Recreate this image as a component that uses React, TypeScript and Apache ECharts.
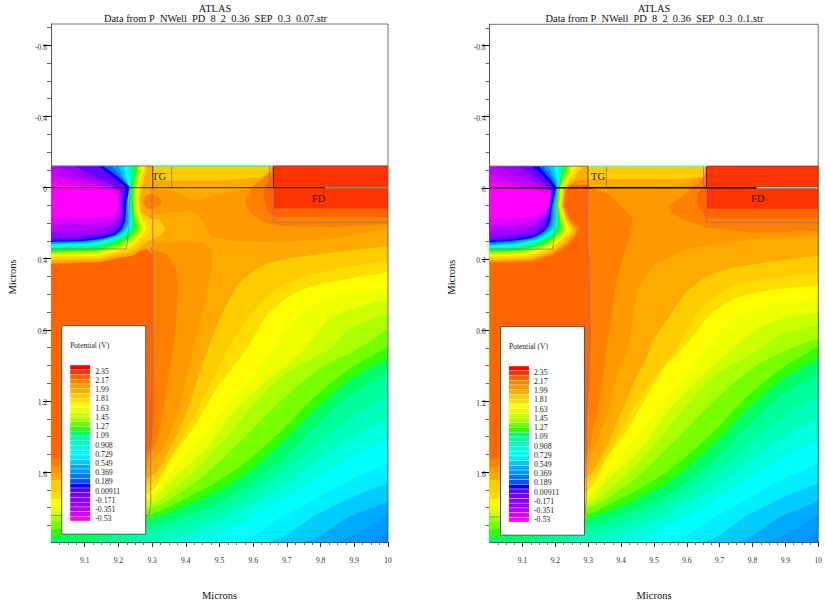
import React, { useEffect, useRef } from "react";
import * as echarts from "echarts";

type Pts = number[][];

const SERIF = "Liberation Serif";
const yTop = -0.92;
const yBottom = 1.993;
const surface = -0.122;

const xMajor = [9.1, 9.2, 9.3, 9.4, 9.5, 9.6, 9.7, 9.8, 9.9, 10];
const xMinor = [9.025, 9.05, 9.075, 9.125, 9.15, 9.175, 9.225, 9.25, 9.275, 9.325, 9.35, 9.375, 9.425, 9.45, 9.475, 9.525, 9.55, 9.575, 9.625, 9.65, 9.675, 9.725, 9.75, 9.775, 9.825, 9.85, 9.875, 9.925, 9.95, 9.975];
const yMajor = [-0.8, -0.4, 0, 0.4, 0.8, 1.2, 1.6];
const yMinor = [-0.9, -0.7, -0.6, -0.5, -0.3, -0.2, -0.1, 0.1, 0.2, 0.3, 0.5, 0.6, 0.7, 0.9, 1.0, 1.1, 1.3, 1.4, 1.5, 1.7, 1.8, 1.9];

const legendLabels = ["2.35", "2.17", "1.99", "1.81", "1.63", "1.45", "1.27", "1.09", "0.908", "0.729", "0.549", "0.369", "0.189", "0.00911", "-0.171", "-0.351", "-0.53"];
const legendColors = ["#ff0000", "#ff3300", "#ff6600", "#ff8000", "#ff9900", "#ffaa00", "#ffcc00", "#ffdd00", "#ffff00", "#eeff00", "#ccff00", "#aaff00", "#66ff00", "#33ff00", "#00ff66", "#00ffaa", "#00ffbb", "#00ffdd", "#00ffff", "#00eeff", "#00ccff", "#00aaff", "#0099ff", "#0077ff", "#0055ff", "#0000ff", "#5500ff", "#7700ff", "#8800ff", "#9900ff", "#bb00ff", "#dd00ff", "#ff00ff"];

// Contours shared by both plots, coldest first (microns).
const coldColors = ["#0099ff", "#00aaff", "#00ccff", "#00eeff", "#00ffff", "#00ffdd", "#00ffbb", "#00ff99", "#00ff66", "#33ff00", "#77ff00"];
const c22: Pts = [[9.942, 1.993], [10, 1.934]];
const c21: Pts = [[9.828, 1.993], [10, 1.84]];
const c20: Pts = [[9.744, 1.993], [9.887, 1.85], [10, 1.766]];
const c19: Pts = [[9.64, 1.993], [9.788, 1.84], [9.887, 1.747], [10, 1.663]];
const c18: Pts = [[9.551, 1.993], [9.67, 1.868], [9.788, 1.747], [9.887, 1.644], [10, 1.55]];
const c17: Pts = [[9.422, 1.993], [9.561, 1.887], [9.689, 1.747], [9.788, 1.635], [9.887, 1.522], [10, 1.42]];
const c16: Pts = [[9.313, 1.993], [9.442, 1.924], [9.561, 1.821], [9.689, 1.672], [9.788, 1.541], [9.887, 1.41], [10, 1.298]];
const c15: Pts = [[9.225, 1.993], [9.284, 1.952], [9.403, 1.896], [9.541, 1.784], [9.689, 1.597], [9.788, 1.448], [9.887, 1.298], [10, 1.167]];
const c14: Pts = [[9.085, 1.993], [9.244, 1.934], [9.403, 1.84], [9.541, 1.728], [9.689, 1.522], [9.788, 1.336], [9.887, 1.167], [10, 1.036]];
const c13: Pts = [[9, 1.966], [9.145, 1.934], [9.284, 1.868], [9.422, 1.775], [9.561, 1.635], [9.689, 1.429], [9.788, 1.242], [9.887, 1.083], [10, 0.962]];
const c12: Pts = [[9, 1.925], [9.284, 1.844], [9.403, 1.747], [9.541, 1.597], [9.67, 1.392], [9.778, 1.186], [9.887, 1.018], [10, 0.896]];
const coldContours = [c22, c21, c20, c19, c18, c17, c16, c15, c14, c13, c12];

const warmColors = ["#aaff00", "#ccff00", "#eeff00", "#ffff00", "#ffdd00", "#ffcc00", "#ffaa00"];

// Left plot
const lF7: Pts = [[9, 1.878], [9.284, 1.812], [9.432, 1.653], [9.561, 1.429], [9.679, 1.205], [9.798, 1.018], [9.912, 0.906], [10, 0.793]];
const lF6: Pts = [[9, 1.85], [9.284, 1.793], [9.403, 1.635], [9.501, 1.448], [9.6, 1.223], [9.689, 1.055], [9.828, 0.906], [9.887, 0.794], [10, 0.709]];
const lF5: Pts = [[9, 1.822], [9.284, 1.771], [9.363, 1.635], [9.462, 1.466], [9.541, 1.261], [9.65, 1.074], [9.754, 0.906], [9.828, 0.737], [9.927, 0.663], [10, 0.625]];
const lF4: Pts = [[9, 1.794], [9.284, 1.747], [9.373, 1.56], [9.452, 1.392], [9.521, 1.223], [9.6, 1.055], [9.66, 0.906], [9.729, 0.719], [9.828, 0.625], [10, 0.56]];
const lF3: Pts = [[9, 1.751], [9.284, 1.719], [9.363, 1.504], [9.422, 1.354], [9.492, 1.13], [9.581, 0.906], [9.65, 0.7], [9.729, 0.588], [9.828, 0.532], [10, 0.476]];
const lF2: Pts = [[9, 1.713], [9.284, 1.672], [9.383, 1.429], [9.442, 1.223], [9.492, 1.036], [9.526, 0.906], [9.571, 0.775], [9.63, 0.635], [9.679, 0.56], [9.778, 0.485], [10, 0.41]];
const lF1: Pts = [[9, 1.644], [9.284, 1.635], [9.353, 1.466], [9.403, 1.261], [9.442, 1.036], [9.477, 0.85], [9.492, 0.775], [9.531, 0.625], [9.561, 0.532], [9.63, 0.438], [9.729, 0.392], [10, 0.33]];
const leftWarm = [lF7, lF6, lF5, lF4, lF3, lF2, lF1];

const lUpperT: Pts = [[9.302, 0.005], [9.363, 0.018], [9.412, 0.068], [9.442, 0.068], [9.492, 0.042], [9.581, 0.005], [9.65, -0.057], [9.66, -0.122], [10, -0.122], [10, 0.233], [9.828, 0.289], [9.679, 0.307], [9.531, 0.298], [9.477, 0.279], [9.442, 0.167], [9.412, 0.13], [9.302, 0.149]];
const lLowerT: Pts = [[9, 1.606], [9.284, 1.588], [9.333, 1.466], [9.373, 1.28], [9.403, 1.074], [9.422, 0.906], [9.457, 0.644], [9.477, 0.457], [9.48, 0.354], [9.457, 0.307], [9.302, 0.307], [9.284, 0.382], [9, 0.42]];
const lInnerT: Pts = [[9, 1.57], [9.284, 1.532], [9.313, 1.429], [9.333, 1.261], [9.348, 1.074], [9.368, 0.85], [9.378, 0.55], [9.368, 0.438], [9.343, 0.373], [9.302, 0.345], [9.284, 0.382], [9, 0.42]];
const lBulk: Pts = [[9, 1.523], [9.284, 1.495], [9.299, 1.448], [9.306, 1.223], [9.302, 0.85], [9.302, 0.382], [9.284, 0.345], [9.264, 0.354], [9.244, 0.382], [9.145, 0.42], [9, 0.429]];
const lGateBand: Pts = [[9.302, -0.122], [9.65, -0.122], [9.65, -0.085], [9.62, -0.057], [9.492, -0.038], [9.302, -0.038]];
const lFdOuter: Pts = [[9.65, -0.085], [9.595, 0], [9.576, 0.083], [9.59, 0.139], [9.63, 0.195], [9.67, 0.214], [9.828, 0.223], [10, 0.205], [10, -0.122], [9.66, -0.122]];
const lFdInner: Pts = [[9.655, -0.066], [9.635, 0], [9.63, 0.046], [9.645, 0.139], [9.665, 0.167], [10, 0.167], [10, -0.122], [9.66, -0.122]];
const fdCore: Pts = [[9.66, -0.122], [10, -0.122], [10, 0.118], [9.66, 0.118]];
const lBlob: Pts = [[9.276, 0.074], [9.289, 0.04], [9.313, 0.046], [9.328, 0.079], [9.313, 0.111], [9.289, 0.121], [9.277, 0.102]];
const leftOrange = [lUpperT, lLowerT, lInnerT, lBulk, lGateBand, lFdOuter, lFdInner, fdCore];
const leftOrangeColors = ["#ff9900", "#ff9900", "#ff8000", "#ff6600", "#ffcc00", "#ff8000", "#ff6600", "#ff3300"];

const depletionColors = ["#ffaa00", "#ffcc00", "#ffdd00", "#ffff00", "#ccff00", "#88ff00", "#33ff00", "#00ff66", "#00ffbb", "#00ffff", "#00ccff", "#0099ff", "#0066ff", "#0000ff", "#6600ff", "#9900ff", "#bb00ff", "#dd00ff", "#ff00ff"];
const lD1: Pts = [[9.294, -0.122], [9.276, 0], [9.27, 0.064], [9.276, 0.13], [9.302, 0.149], [9.302, 0.322], [9.284, 0.341], [9.264, 0.35], [9.244, 0.375], [9.145, 0.416], [9, 0.425]];
const lD2: Pts = [[9.287, -0.122], [9.269, 0], [9.264, 0.064], [9.268, 0.139], [9.294, 0.177], [9.323, 0.18], [9.34, 0.233], [9.323, 0.274], [9.299, 0.289], [9.269, 0.326], [9.239, 0.364], [9.145, 0.401], [9, 0.41]];
const lD3: Pts = [[9.282, -0.122], [9.264, 0], [9.26, 0.064], [9.264, 0.139], [9.284, 0.192], [9.296, 0.233], [9.284, 0.266], [9.264, 0.307], [9.234, 0.35], [9.145, 0.392], [9, 0.397]];
const lD4: Pts = [[9.276, -0.122], [9.259, 0], [9.256, 0.064], [9.259, 0.139], [9.274, 0.195], [9.284, 0.229], [9.272, 0.261], [9.254, 0.304], [9.224, 0.341], [9.145, 0.382], [9, 0.386]];
const lD5: Pts = [[9.27, -0.122], [9.254, 0], [9.252, 0.064], [9.255, 0.149], [9.268, 0.205], [9.274, 0.229], [9.262, 0.261], [9.244, 0.304], [9.215, 0.335], [9.145, 0.373], [9, 0.378]];
const lD6: Pts = [[9.264, -0.122], [9.25, 0], [9.248, 0.064], [9.251, 0.149], [9.262, 0.21], [9.266, 0.229], [9.254, 0.261], [9.236, 0.298], [9.205, 0.33], [9.145, 0.364], [9, 0.371]];
const lD7: Pts = [[9.258, -0.122], [9.246, 0], [9.244, 0.064], [9.247, 0.149], [9.256, 0.205], [9.258, 0.229], [9.246, 0.261], [9.229, 0.292], [9.195, 0.322], [9.145, 0.354], [9, 0.364]];
const lD8: Pts = [[9.25, -0.122], [9.242, 0], [9.24, 0.064], [9.243, 0.149], [9.249, 0.205], [9.249, 0.229], [9.239, 0.255], [9.222, 0.285], [9.19, 0.313], [9.135, 0.341], [9, 0.354]];
const lD9: Pts = [[9.24, -0.122], [9.238, 0], [9.236, 0.064], [9.239, 0.149], [9.242, 0.205], [9.241, 0.225], [9.232, 0.251], [9.217, 0.278], [9.185, 0.304], [9.13, 0.332], [9, 0.341]];
const lD10: Pts = [[9.229, -0.122], [9.234, 0], [9.232, 0.064], [9.235, 0.149], [9.236, 0.199], [9.234, 0.221], [9.226, 0.248], [9.211, 0.27], [9.18, 0.294], [9.125, 0.322], [9, 0.33]];
const lD11: Pts = [[9.215, -0.122], [9.23, 0], [9.228, 0.064], [9.231, 0.149], [9.232, 0.195], [9.229, 0.218], [9.22, 0.244], [9.205, 0.266], [9.175, 0.289], [9.12, 0.313], [9, 0.321]];
const lD12: Pts = [[9.2, -0.122], [9.227, 0], [9.225, 0.064], [9.228, 0.149], [9.228, 0.195], [9.224, 0.218], [9.215, 0.24], [9.197, 0.263], [9.17, 0.285], [9.116, 0.306], [9, 0.313]];
const lD13: Pts = [[9.18, -0.122], [9.21, -0.057], [9.234, -0.005], [9.225, 0.083], [9.222, 0.186], [9.213, 0.236], [9.193, 0.27], [9.157, 0.289], [9.096, 0.304], [9, 0.309]];
const lD14: Pts = [[9.155, -0.122], [9.195, -0.066], [9.232, -0.005], [9.224, 0.083], [9.22, 0.186], [9.21, 0.233], [9.19, 0.266], [9.155, 0.285], [9.096, 0.3], [9, 0.304]];
const lD15: Pts = [[9.14, -0.122], [9.18, -0.066], [9.222, -0.005], [9.215, 0.083], [9.213, 0.186], [9.2, 0.233], [9.18, 0.261], [9.145, 0.278], [9.086, 0.292], [9, 0.298]];
const lD16: Pts = [[9.071, -0.122], [9.135, -0.057], [9.195, -0.005], [9.21, 0.064], [9.207, 0.167], [9.19, 0.223], [9.165, 0.251], [9.126, 0.266], [9.076, 0.279], [9, 0.285]];
const lD17: Pts = [[9.015, -0.122], [9.09, -0.06], [9.18, -0.014], [9.207, 0.018], [9.205, 0.167], [9.18, 0.21], [9.145, 0.233], [9.096, 0.242], [9, 0.251]];
const lD18: Pts = [[9, -0.075], [9.075, -0.04], [9.165, -0.005], [9.203, 0.022], [9.2, 0.139], [9.185, 0.186], [9.145, 0.199], [9.076, 0.205], [9, 0.21]];
const lD19: Pts = [[9, -0.03], [9.08, -0.012], [9.165, 0.012], [9.2, 0.04], [9.197, 0.13], [9.175, 0.167], [9, 0.177]];
const leftDepletion = [lD1, lD2, lD3, lD4, lD5, lD6, lD7, lD8, lD9, lD10, lD11, lD12, lD13, lD14, lD15, lD16, lD17, lD18, lD19];

const lWell: Pts = [[9, 0.345], [9.224, 0.345], [9.232, 0.195], [9.234, 0]];
const lDrift: Pts = [[9.3, 0], [9.3, 0.172], [9.302, 0.175], [9.302, 0.33], [9.299, 0.335], [9.302, 0.4], [9.302, 0.85], [9.302, 1.036], [9.296, 1.186], [9.296, 1.784], [9.291, 1.844], [9, 1.844]];
const lGateA: Pts = [[9.358, -0.122], [9.358, 0]];
const lGateB: Pts = [[9.648, -0.122], [9.648, 0]];
const fdJunction: Pts = [[9.66, 0], [9.66, 0.195], [10, 0.195]];

// Right plot
const rF7: Pts = [[9, 1.878], [9.284, 1.812], [9.432, 1.653], [9.561, 1.429], [9.679, 1.205], [9.798, 1.018], [9.915, 0.904], [10, 0.85]];
const rF6: Pts = [[9, 1.85], [9.284, 1.793], [9.403, 1.635], [9.501, 1.448], [9.6, 1.223], [9.689, 1.055], [9.826, 0.904], [9.885, 0.83], [10, 0.775]];
const rF5: Pts = [[9, 1.822], [9.284, 1.771], [9.363, 1.635], [9.462, 1.466], [9.541, 1.261], [9.64, 1.07], [9.742, 0.904], [9.816, 0.792], [9.895, 0.736], [10, 0.7]];
const rF4: Pts = [[9, 1.794], [9.284, 1.747], [9.373, 1.56], [9.452, 1.392], [9.521, 1.223], [9.6, 1.055], [9.683, 0.848], [9.747, 0.736], [9.846, 0.662], [10, 0.63]];
const rF3: Pts = [[9, 1.751], [9.284, 1.719], [9.363, 1.504], [9.422, 1.354], [9.492, 1.13], [9.539, 0.997], [9.614, 0.848], [9.668, 0.718], [9.747, 0.624], [9.846, 0.578], [10, 0.55]];
const rF2: Pts = [[9, 1.713], [9.284, 1.672], [9.383, 1.429], [9.442, 1.223], [9.5, 1.072], [9.569, 0.904], [9.618, 0.736], [9.678, 0.624], [9.757, 0.541], [10, 0.475]];
const rF1: Pts = [[9, 1.644], [9.284, 1.635], [9.353, 1.466], [9.401, 1.258], [9.441, 1.09], [9.48, 0.941], [9.495, 0.867], [9.549, 0.718], [9.599, 0.587], [9.658, 0.503], [9.747, 0.447], [10, 0.382]];
const rightWarm = [rF7, rF6, rF5, rF4, rF3, rF2, rF1];

const rMid: Pts = [[9, 1.606], [9.292, 1.585], [9.322, 1.445], [9.362, 1.258], [9.391, 1.034], [9.421, 0.904], [9.45, 0.569], [9.5, 0.429], [9.599, 0.345], [9.796, 0.289], [10, 0.275], [10, -0.122], [9.66, -0.122], [9.628, -0.047], [9.559, 0], [9.342, 0], [9, 0]];
const rWedge: Pts = [[9, 1.57], [9.292, 1.538], [9.312, 1.389], [9.332, 1.221], [9.347, 1.034], [9.36, 0.848], [9.371, 0.718], [9.381, 0.569], [9.401, 0.419], [9.416, 0.326], [9.436, 0.205], [9.431, 0.158], [9.362, 0.037], [9.307, 0], [9, 0]];
const rBulk: Pts = [[9, 1.523], [9.292, 1.482], [9.299, 1.221], [9.307, 1.034], [9.307, 0.848], [9.299, 0.345], [9.299, -0.019], [9, -0.019]];
const rGateBand: Pts = [[9.299, -0.122], [9.66, -0.122], [9.65, -0.06], [9.56, -0.05], [9.299, -0.05]];
const rFdOuter: Pts = [[9.653, -0.056], [9.599, 0.028], [9.544, 0.103], [9.549, 0.14], [9.599, 0.186], [9.658, 0.224], [9.796, 0.252], [10, 0.243], [10, -0.122], [9.66, -0.122]];
const rFdInner: Pts = [[9.658, -0.019], [9.633, 0.028], [9.63, 0.093], [9.658, 0.168], [9.678, 0.171], [10, 0.171], [10, -0.122], [9.66, -0.122]];
const rightOrange = [rMid, rWedge, rBulk, rGateBand, rFdOuter, rFdInner, fdCore];
const rightOrangeColors = ["#ff9900", "#ff8000", "#ff6600", "#ffcc00", "#ff8000", "#ff6600", "#ff3300"];

const rD0: Pts = [[9.299, -0.037], [9.253, -0.019], [9.235, 0.009], [9.227, 0.102], [9.243, 0.167], [9.273, 0.223], [9.271, 0.251], [9.243, 0.317], [9.199, 0.378], [9.134, 0.416], [9, 0.425]];
const rD1: Pts = [[9.299, -0.122], [9.299, -0.056], [9.258, -0.028], [9.231, 0], [9.224, 0.102], [9.239, 0.174], [9.265, 0.233], [9.261, 0.255], [9.235, 0.313], [9.194, 0.369], [9.129, 0.406], [9, 0.416]];
const rD2: Pts = [[9.285, -0.122], [9.253, -0.041], [9.227, 0], [9.221, 0.102], [9.235, 0.177], [9.255, 0.233], [9.251, 0.255], [9.228, 0.307], [9.189, 0.36], [9.124, 0.397], [9, 0.408]];
const rD3: Pts = [[9.273, -0.122], [9.247, -0.047], [9.224, 0], [9.218, 0.102], [9.231, 0.18], [9.249, 0.233], [9.243, 0.255], [9.221, 0.3], [9.184, 0.35], [9.12, 0.386], [9, 0.397]];
const rD4: Pts = [[9.263, -0.122], [9.241, -0.053], [9.221, 0], [9.215, 0.102], [9.227, 0.18], [9.241, 0.233], [9.235, 0.255], [9.213, 0.298], [9.179, 0.345], [9.115, 0.378], [9, 0.386]];
const rD5: Pts = [[9.255, -0.122], [9.235, -0.057], [9.218, 0], [9.213, 0.102], [9.223, 0.18], [9.233, 0.233], [9.227, 0.255], [9.206, 0.292], [9.174, 0.337], [9.11, 0.371], [9, 0.378]];
const rD6: Pts = [[9.247, -0.122], [9.229, -0.057], [9.215, 0], [9.21, 0.102], [9.219, 0.18], [9.225, 0.233], [9.219, 0.255], [9.199, 0.289], [9.169, 0.33], [9.105, 0.364], [9, 0.371]];
const rD7: Pts = [[9.238, -0.122], [9.223, -0.057], [9.213, 0], [9.207, 0.102], [9.215, 0.18], [9.219, 0.229], [9.213, 0.251], [9.194, 0.285], [9.164, 0.322], [9.1, 0.352], [9, 0.362]];
const rD8: Pts = [[9.23, -0.122], [9.219, -0.057], [9.211, 0], [9.206, 0.102], [9.211, 0.18], [9.213, 0.225], [9.206, 0.251], [9.189, 0.279], [9.159, 0.315], [9.095, 0.345], [9, 0.354]];
const rD9: Pts = [[9.221, -0.122], [9.215, -0.057], [9.208, 0], [9.204, 0.102], [9.207, 0.18], [9.207, 0.221], [9.2, 0.248], [9.184, 0.274], [9.154, 0.307], [9.09, 0.335], [9, 0.345]];
const rD10: Pts = [[9.208, -0.122], [9.211, -0.057], [9.206, 0], [9.201, 0.102], [9.203, 0.18], [9.202, 0.218], [9.194, 0.244], [9.178, 0.268], [9.149, 0.298], [9.085, 0.326], [9, 0.335]];
const rD11: Pts = [[9.194, -0.122], [9.206, -0.047], [9.206, 0], [9.198, 0.102], [9.198, 0.18], [9.196, 0.214], [9.188, 0.24], [9.172, 0.263], [9.144, 0.291], [9.08, 0.317], [9, 0.326]];
const rD12: Pts = [[9.179, -0.122], [9.202, -0.037], [9.205, 0], [9.195, 0.102], [9.193, 0.18], [9.189, 0.214], [9.181, 0.238], [9.166, 0.259], [9.139, 0.285], [9.075, 0.309], [9, 0.319]];
const rD13: Pts = [[9.164, -0.122], [9.189, -0.057], [9.204, -0.002], [9.192, 0.102], [9.189, 0.18], [9.184, 0.214], [9.174, 0.238], [9.159, 0.259], [9.132, 0.281], [9.07, 0.304], [9, 0.313]];
const rD14: Pts = [[9.149, -0.122], [9.176, -0.066], [9.202, -0.006], [9.189, 0.102], [9.184, 0.18], [9.178, 0.214], [9.166, 0.242], [9.149, 0.265], [9.123, 0.285], [9.065, 0.298], [9, 0.307]];
const rD15: Pts = [[9.129, -0.122], [9.162, -0.066], [9.192, -0.006], [9.182, 0.102], [9.176, 0.18], [9.169, 0.218], [9.154, 0.248], [9.134, 0.266], [9.105, 0.279], [9.055, 0.289], [9, 0.296]];
const rD16: Pts = [[9.09, -0.122], [9.134, -0.066], [9.179, -0.006], [9.184, 0.064], [9.176, 0.139], [9.159, 0.21], [9.134, 0.242], [9.105, 0.259], [9.055, 0.27], [9, 0.279]];
const rD17: Pts = [[9.015, -0.122], [9.09, -0.066], [9.159, -0.019], [9.189, 0.018], [9.182, 0.102], [9.169, 0.158], [9.139, 0.21], [9.105, 0.233], [9.055, 0.242], [9, 0.248]];
const rD18: Pts = [[9, -0.075], [9.05, -0.045], [9.139, -0.006], [9.188, 0.02], [9.18, 0.102], [9.166, 0.149], [9.134, 0.186], [9.095, 0.205], [9.045, 0.21], [9, 0.214]];
const rD19: Pts = [[9, -0.03], [9.065, -0.01], [9.134, 0.012], [9.187, 0.035], [9.179, 0.102], [9.162, 0.143], [9.129, 0.167], [9, 0.177]];
const rightDepletion = [rD1, rD2, rD3, rD4, rD5, rD6, rD7, rD8, rD9, rD10, rD11, rD12, rD13, rD14, rD15, rD16, rD17, rD18, rD19];

const rWell: Pts = [[9, 0.345], [9.192, 0.345], [9.199, 0.205], [9.204, 0]];
const rDrift: Pts = [[9.299, 0], [9.299, 0.345], [9.305, 0.45], [9.305, 0.85], [9.299, 1.0], [9.294, 1.2], [9.294, 1.74], [9.291, 1.84], [9, 1.852]];
const rGateA: Pts = [[9.355, -0.122], [9.355, 0]];
const rGateB: Pts = [[9.651, -0.122], [9.651, 0]];

const GREY = "rgba(160,105,170,0.9)";

function closeCorner(curve: Pts): Pts {
  return [...curve, [9, surface]];
}

type Layer = { pts: Pts; color: string; smooth?: number };

function polygons(index: number, layers: Layer[], z: number) {
  return {
    type: "custom",
    xAxisIndex: index * 2,
    yAxisIndex: index * 2,
    silent: true,
    z,
    data: layers.map(() => [9.5, 1]),
    renderItem: (params: any, api: any) => {
      const layer = layers[params.dataIndex];
      return {
        type: "polygon",
        shape: { points: layer.pts.map((p) => api.coord(p)), smooth: layer.smooth || 0 },
        style: { fill: layer.color },
      };
    },
  };
}

// A band of the field: the area between a contour and the silicon surface.
function band(index: number, curve: Pts, color: string) {
  const data = curve[0][0] > 9 ? [[9, yBottom], ...curve] : curve;
  return {
    type: "line",
    xAxisIndex: index * 2,
    yAxisIndex: index * 2,
    data,
    silent: true,
    showSymbol: false,
    smooth: 0.3,
    z: 2,
    lineStyle: { width: 0, color },
    itemStyle: { color },
    areaStyle: { color, opacity: 1, origin: surface },
  };
}

function line(index: number, data: Pts, color: string, width: number, z = 4) {
  return {
    type: "line",
    xAxisIndex: index * 2,
    yAxisIndex: index * 2,
    data,
    silent: true,
    showSymbol: false,
    clip: false,
    z,
    lineStyle: { color, width },
    itemStyle: { color },
  };
}

function axesFor(gridIndex: number) {
  const label = { color: "#333", fontFamily: SERIF, fontSize: 7.5 };
  const x = [
    {
      gridIndex,
      type: "value",
      min: 9,
      max: 10,
      position: "bottom",
      name: "Microns",
      nameLocation: "middle",
      nameGap: 48,
      nameTextStyle: { fontFamily: SERIF, fontSize: 10.5, color: "#111" },
      axisLine: { onZero: false, lineStyle: { color: "#555" } },
      axisTick: { customValues: xMajor, length: 5, lineStyle: { color: "#333" } },
      axisLabel: { ...label, customValues: xMajor, margin: 14, showMinLabel: true, showMaxLabel: true, hideOverlap: false },
      splitLine: { show: false },
    },
    {
      gridIndex,
      type: "value",
      min: 9,
      max: 10,
      position: "bottom",
      axisLine: { show: false, onZero: false },
      axisTick: { customValues: xMinor, length: 3, lineStyle: { color: "#666" } },
      axisLabel: { show: false },
      splitLine: { show: false },
    },
  ];
  const y = [
    {
      gridIndex,
      type: "value",
      inverse: true,
      min: yTop,
      max: yBottom,
      position: "left",
      name: "Microns",
      nameLocation: "middle",
      nameGap: 33,
      nameTextStyle: { fontFamily: SERIF, fontSize: 10.5, color: "#111", padding: [0, 0, 0, 12] },
      axisLine: { onZero: false, lineStyle: { color: "#555" } },
      axisTick: { customValues: yMajor, length: 8, lineStyle: { color: "#000" } },
      axisLabel: { ...label, customValues: yMajor, margin: 4, verticalAlign: "top", lineHeight: 4, hideOverlap: false },
      splitLine: { show: false },
    },
    {
      gridIndex,
      type: "value",
      inverse: true,
      min: yTop,
      max: yBottom,
      position: "left",
      axisLine: { show: false, onZero: false },
      axisTick: { customValues: yMinor, length: 4, lineStyle: { color: "#666" } },
      axisLabel: { show: false },
      splitLine: { show: false },
    },
  ];
  return { x, y };
}

function legendBox(left: number, top: number) {
  const els: any[] = [
    { type: "rect", z: 50, shape: { x: left, y: top, width: 84, height: 208.5 }, style: { fill: "#fff", stroke: "#555", lineWidth: 1 } },
    { type: "text", z: 51, x: left + 8.5, y: top + 15.5, style: { text: "Potential (V)", fontFamily: SERIF, fontSize: 7.5, fill: "#222" } },
  ];
  legendColors.forEach((c, i) => {
    els.push({ type: "rect", z: 51, shape: { x: left + 8.5, y: top + 39.5 + i * 4.73, width: 20, height: 4.3 }, style: { fill: c } });
  });
  legendLabels.forEach((t, i) => {
    els.push({ type: "text", z: 51, x: left + 33.5, y: top + 41.5 + i * 9.23, style: { text: t, fontFamily: SERIF, fontSize: 7.8, fill: "#222" } });
  });
  return els;
}

function titleText(text: string, left: number, top: number) {
  return { text, left, top, padding: 0, textAlign: "center", textStyle: { fontFamily: SERIF, fontSize: 10.4, fontWeight: "normal", color: "#111" } };
}

function bands(index: number, warm: Pts[]) {
  return [
    ...coldContours.map((c, i) => band(index, c, coldColors[i])),
    ...warm.map((c, i) => band(index, c, warmColors[i])),
  ];
}

const baseLayer: Layer = { pts: [[9, surface], [10, surface], [10, yBottom], [9, yBottom]], color: "#0088ff" };

export default function App() {
  const ref = useRef<HTMLDivElement>(null);
  useEffect(() => {
    const chart = echarts.init(ref.current!, undefined, { renderer: "svg" });
    const a = axesFor(0);
    const b = axesFor(1);
    const leftLayers: Layer[] = [
      ...leftOrange.map((pts, i) => ({ pts, color: leftOrangeColors[i] })),
      ...leftDepletion.map((c, i) => ({ pts: closeCorner(c), color: depletionColors[i] })),
      { pts: lBlob, color: "#ff8000", smooth: 0.6 },
    ];
    const rightLayers: Layer[] = [
      ...rightOrange.map((pts, i) => ({ pts, color: rightOrangeColors[i] })),
      { pts: closeCorner(rD0), color: "#ff8000" },
      ...rightDepletion.map((c, i) => ({ pts: closeCorner(c), color: depletionColors[i] })),
    ];
    chart.setOption({
      animation: false,
      backgroundColor: "#fff",
      grid: [
        { left: 51, top: 24, width: 337, height: 520, show: true, backgroundColor: "#fff", borderWidth: 0 },
        { left: 489.7, top: 24.3, width: 337.5, height: 521, show: true, backgroundColor: "#fff", borderWidth: 0 },
      ],
      xAxis: [...a.x, ...b.x],
      yAxis: [...a.y, ...b.y],
      title: [
        titleText("ATLAS", 215, 3),
        titleText("Data from P\u00a0\u00a0NWell\u00a0\u00a0PD\u00a0\u00a08\u00a0\u00a02\u00a0\u00a00.36\u00a0\u00a0SEP\u00a0\u00a00.3\u00a0\u00a00.07.str", 215.5, 13.5),
        titleText("ATLAS", 654, 3),
        titleText("Data from P\u00a0\u00a0NWell\u00a0\u00a0PD\u00a0\u00a08\u00a0\u00a02\u00a0\u00a00.36\u00a0\u00a0SEP\u00a0\u00a00.3\u00a0\u00a00.1.str", 654.5, 13.5),
      ],
      series: [
        polygons(0, [baseLayer], 1),
        polygons(1, [baseLayer], 1),
        ...bands(0, leftWarm),
        ...bands(1, rightWarm),
        polygons(0, leftLayers, 3),
        polygons(1, rightLayers, 3),
        line(0, lWell, GREY, 0.9),
        line(0, lDrift, GREY, 0.9),
        line(0, lGateA, GREY, 0.9),
        line(0, lGateB, GREY, 0.9),
        line(0, fdJunction, GREY, 0.9),
        line(0, [[9, 0], [9.813, 0]], "rgba(40,20,0,0.75)", 1.4),
        line(0, [[9.813, 0], [10, 0]], "#5f9f9f", 1.4),
        line(0, [[9.302, surface], [9.302, 0]], "rgba(20,20,0,0.8)", 1),
        line(0, [[9.66, surface], [9.66, 0]], "rgba(60,0,0,0.8)", 1),
        line(0, [[9.302, surface], [9.66, surface]], "#00ffff", 1.2, 5),
        line(0, [[9, surface], [9.302, surface]], "#777", 1),
        line(0, [[9.66, surface], [10, surface]], "#844", 1),
        line(0, [[9, yTop], [10, yTop], [10, yBottom]], "rgba(90,90,90,0.85)", 1),
        line(1, rWell, GREY, 0.9),
        line(1, rDrift, GREY, 0.9),
        line(1, rGateA, GREY, 0.9),
        line(1, rGateB, GREY, 0.9),
        line(1, fdJunction, GREY, 0.9),
        line(1, [[9, 0], [9.812, 0]], "#000", 1.4),
        line(1, [[9.812, 0], [10, 0]], "#22eeee", 1.4),
        line(1, [[9.299, surface], [9.299, 0]], "rgba(120,70,0,0.9)", 1.2),
        line(1, [[9.66, surface], [9.66, 0]], "rgba(60,0,0,0.8)", 1),
        line(1, [[9.299, surface], [9.66, surface]], "#33ffff", 1.2, 5),
        line(1, [[9, surface], [9.299, surface]], "#777", 1),
        line(1, [[9.66, surface], [10, surface]], "#844", 1),
        line(1, [[9, yTop], [10, yTop], [10, yBottom]], "rgba(90,90,90,0.85)", 1),
      ],
      graphic: [
        { type: "text", z: 51, x: 152, y: 171, style: { text: "TG", fontFamily: SERIF, fontSize: 10.5, fill: "#222" } },
        { type: "text", z: 51, x: 312, y: 193, style: { text: "FD", fontFamily: SERIF, fontSize: 10.5, fill: "#401000" } },
        { type: "text", z: 51, x: 591, y: 171, style: { text: "TG", fontFamily: SERIF, fontSize: 10.5, fill: "#222" } },
        { type: "text", z: 51, x: 751, y: 193, style: { text: "FD", fontFamily: SERIF, fontSize: 10.5, fill: "#401000" } },
        ...legendBox(61.7, 325.7),
        ...legendBox(500.5, 326.7),
      ],
    });
    return () => chart.dispose();
  }, []);
  return <div ref={ref} style={{ position: "absolute", left: 0, top: 0, width: 825, height: 606 }} />;
}
